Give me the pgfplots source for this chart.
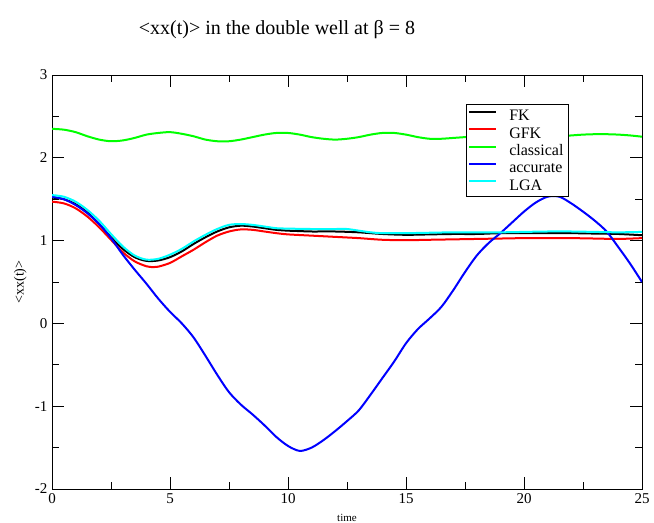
\documentclass[border=0pt]{standalone}
\usepackage{fontspec}
\setmainfont{Liberation Serif}
\usepackage{pgfplots}
\pgfplotsset{compat=1.18}
\definecolor{xgreen}{RGB}{0,255,0}
\definecolor{xred}{RGB}{255,0,0}
\definecolor{xblue}{RGB}{0,0,255}
\definecolor{xcyan}{RGB}{0,255,255}
\newcommand\ls{\rule[-4bp]{0pt}{15.6bp}}
\begin{document}
\begin{tikzpicture}
\path[use as bounding box] (0,0) rectangle (654bp,-523bp);
\node[font=\fontsize{20bp}{24bp}\selectfont] at (277bp,-30bp) {<xx(t)> in the double well at β = 8};
\begin{axis}[
  at={(52bp,-489bp)}, anchor=south west,
  scale only axis, width=590bp, height=414bp,
  xmin=0, xmax=25, ymin=-2, ymax=3,
  xtick={0,5,10,15,20,25}, ytick={-2,-1,0,1,2,3},
  minor x tick num=1, minor y tick num=1,
  tick align=inside,
  major tick length=12bp, minor tick length=7bp,
  every tick/.style={black, line width=0.8bp},
  axis line style={line width=0.8bp},
  /pgf/number format/assume math mode=true,
  ticklabel style={font=\fontsize{15bp}{18bp}\selectfont},
  xticklabel style={yshift=-1bp},
  yticklabel style={xshift=-1bp},
  xlabel={time}, ylabel={<xx(t)>},
  xlabel style={font=\fontsize{11bp}{12bp}\selectfont, at={(axis description cs:0.5,0)}, anchor=north, yshift=-22bp},
  ylabel style={font=\fontsize{14bp}{15bp}\selectfont, at={(axis description cs:0,0.5)}, anchor=south, yshift=22bp},
  legend cell align=left,
  legend style={at={(rel axis cs:0.876,0.930)}, anchor=north east,
    font=\fontsize{16bp}{16bp}\selectfont, draw=black, line width=0.8bp,
    inner xsep=2bp, inner ysep=4bp, row sep=2.2bp,
    nodes={inner xsep=3bp, inner ysep=1bp}},
  legend image code/.code={\draw[#1,sharp plot,line width=2bp] (0bp,4bp) -- (27bp,4bp); \path (36bp,4bp);},
  every axis plot/.append style={line width=2bp, smooth, tension=0.5},
]
\addplot[black] coordinates {
(0,1.52)(0.5,1.50)(1,1.44)(1.5,1.34)(2,1.20)(2.5,1.04)(3,0.90)(3.5,0.80)(4,0.755)(4.5,0.76)(5,0.80)(5.5,0.87)(6,0.96)(6.5,1.04)(7,1.11)(7.5,1.16)(8,1.18)(8.5,1.17)(9,1.15)(9.5,1.13)(10,1.12)(10.5,1.115)(11,1.11)(12,1.11)(13,1.10)(14,1.08)(15,1.07)(16,1.075)(17,1.08)(18,1.08)(19,1.09)(20,1.09)(21,1.09)(22,1.09)(23,1.085)(24,1.08)(25,1.065)};
\addlegendentry{\ls FK}
\addplot[xred] coordinates {
(0,1.47)(0.5,1.45)(1,1.39)(1.5,1.29)(2,1.16)(2.5,1.01)(3,0.86)(3.5,0.75)(4,0.69)(4.3,0.68)(4.5,0.685)(5,0.73)(5.5,0.81)(6,0.89)(6.5,0.98)(7,1.06)(7.5,1.11)(8,1.135)(8.5,1.13)(9,1.11)(9.5,1.09)(10,1.075)(11,1.06)(12,1.045)(13,1.03)(14,1.01)(15,1.005)(16,1.01)(17,1.015)(18,1.02)(19,1.025)(20,1.03)(21,1.03)(22,1.03)(23,1.025)(24,1.02)(25,1.03)};
\addlegendentry{\ls GFK}
\addplot[xgreen] coordinates {
(0,2.35)(0.5,2.34)(1,2.31)(1.5,2.26)(2,2.22)(2.5,2.20)(3,2.21)(3.5,2.24)(4,2.28)(4.5,2.30)(5,2.31)(5.5,2.29)(6,2.26)(6.5,2.22)(7,2.20)(7.5,2.20)(8,2.22)(8.5,2.25)(9,2.28)(9.5,2.30)(10,2.30)(10.5,2.28)(11,2.25)(11.5,2.23)(12,2.22)(12.5,2.23)(13,2.25)(13.5,2.28)(14,2.30)(14.5,2.30)(15,2.28)(15.5,2.25)(16,2.23)(16.5,2.23)(17,2.24)(17.5,2.25)(18,2.26)(18.5,2.27)(19,2.28)(19.5,2.285)(20,2.28)(20.5,2.27)(21,2.26)(21.5,2.26)(22,2.27)(22.5,2.28)(23,2.285)(23.5,2.285)(24,2.28)(24.5,2.27)(25,2.255)};
\addlegendentry{\ls classical}
\addplot[xblue] coordinates {
(0,1.53)(0.5,1.50)(1,1.43)(1.5,1.33)(2,1.20)(2.5,1.03)(3,0.83)(3.5,0.65)(4,0.48)(4.5,0.30)(5,0.14)(5.5,0.0)(6,-0.17)(6.5,-0.39)(7,-0.62)(7.5,-0.83)(8,-0.98)(8.5,-1.10)(9,-1.23)(9.5,-1.37)(10,-1.48)(10.5,-1.54)(11,-1.50)(11.5,-1.41)(12,-1.30)(12.5,-1.18)(13,-1.05)(13.5,-0.86)(14,-0.66)(14.5,-0.46)(15,-0.24)(15.5,-0.07)(16,0.06)(16.5,0.20)(17,0.40)(17.5,0.62)(18,0.82)(18.5,0.97)(19,1.09)(19.5,1.22)(20,1.35)(20.5,1.46)(21,1.53)(21.5,1.53)(22,1.45)(22.5,1.35)(23,1.24)(23.5,1.11)(24,0.92)(24.5,0.72)(25,0.50)};
\addlegendentry{\ls accurate}
\addplot[xcyan] coordinates {
(0,1.55)(0.5,1.53)(1,1.47)(1.5,1.37)(2,1.24)(2.5,1.08)(3,0.93)(3.5,0.82)(4,0.77)(4.5,0.78)(5,0.83)(5.5,0.90)(6,0.99)(6.5,1.07)(7,1.14)(7.5,1.19)(8,1.20)(8.5,1.19)(9,1.17)(9.5,1.15)(10,1.145)(11,1.14)(12,1.14)(12.5,1.14)(13,1.12)(13.5,1.10)(14,1.09)(15,1.09)(16,1.095)(17,1.10)(18,1.10)(19,1.10)(20,1.105)(21,1.11)(22,1.11)(23,1.105)(24,1.10)(25,1.105)};
\addlegendentry{\ls LGA}
\end{axis}
\end{tikzpicture}
\end{document}
